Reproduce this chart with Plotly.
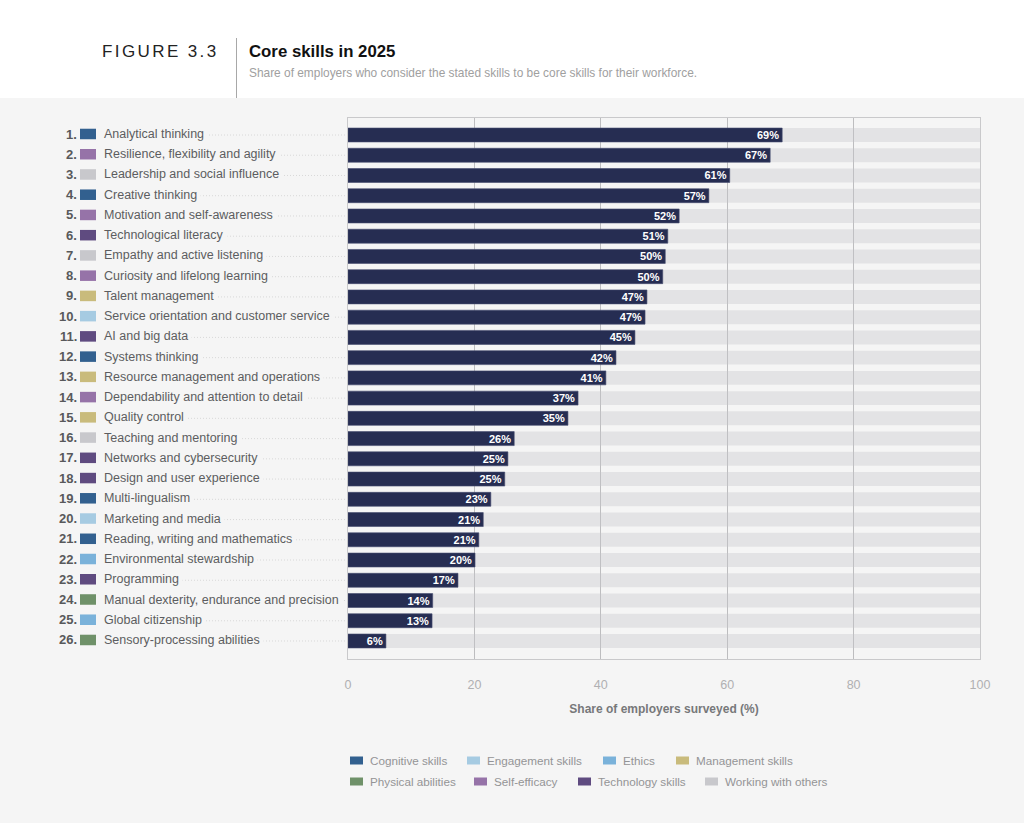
import plotly.graph_objects as go

skills = ["Analytical thinking", "Resilience, flexibility and agility", "Leadership and social influence",
          "Creative thinking", "Motivation and self-awareness", "Technological literacy",
          "Empathy and active listening", "Curiosity and lifelong learning", "Talent management",
          "Service orientation and customer service", "AI and big data", "Systems thinking",
          "Resource management and operations", "Dependability and attention to detail", "Quality control",
          "Teaching and mentoring", "Networks and cybersecurity", "Design and user experience",
          "Multi-lingualism", "Marketing and media", "Reading, writing and mathematics",
          "Environmental stewardship", "Programming", "Manual dexterity, endurance and precision",
          "Global citizenship", "Sensory-processing abilities"]
values = [68.7, 66.8, 60.4, 57.1, 52.4, 50.6, 50.2, 49.8, 47.3, 47.0, 45.4, 42.4, 40.8,
          36.4, 34.8, 26.3, 25.3, 24.8, 22.6, 21.4, 20.7, 20.1, 17.4, 13.4, 13.3, 6.0]
value_labels = ["69%", "67%", "61%", "57%", "52%", "51%", "50%", "50%", "47%", "47%", "45%", "42%", "41%",
                "37%", "35%", "26%", "25%", "25%", "23%", "21%", "21%", "20%", "17%", "14%", "13%", "6%"]
groups = ["Cognitive skills", "Self-efficacy", "Working with others", "Cognitive skills", "Self-efficacy",
          "Technology skills", "Working with others", "Self-efficacy", "Management skills", "Engagement skills",
          "Technology skills", "Cognitive skills", "Management skills", "Self-efficacy", "Management skills",
          "Working with others", "Technology skills", "Technology skills", "Cognitive skills", "Engagement skills",
          "Cognitive skills", "Ethics", "Technology skills", "Physical abilities", "Ethics", "Physical abilities"]
group_colors = {"Cognitive skills": "#32608f", "Engagement skills": "#a6cbe2", "Ethics": "#7ab2da",
                "Management skills": "#c9bb7c", "Physical abilities": "#6f9169", "Self-efficacy": "#9673a8",
                "Technology skills": "#5f4b80", "Working with others": "#c8c8cc"}
legend_rows = [["Cognitive skills", "Engagement skills", "Ethics", "Management skills"],
               ["Physical abilities", "Self-efficacy", "Technology skills", "Working with others"]]
legend_swatch_px = [[350, 467, 603, 676], [350, 474, 578, 705]]
axis_ticks = [0, 20, 40, 60, 80, 100]

W, H = 1024, 823
L, R, T, B = 348, 980, 118, 659
FONT = "Liberation Sans"
py = lambda v: 1 - (v - T) / (B - T)
pxp = lambda v: (v - L) / (R - L)

fig = go.Figure()
fig.add_bar(y=skills, x=[100] * len(skills), orientation="h", width=0.69,
            marker=dict(color="rgba(196,198,202,0.38)", line_width=0), hoverinfo="skip", showlegend=False)
fig.add_bar(y=skills, x=values, orientation="h", width=0.69, text=value_labels,
            textposition="inside", insidetextanchor="end", textangle=0, constraintext="none",
            textfont=dict(family=FONT, size=11, color="white", weight=700),
            marker=dict(color="#262d52", line=dict(color="#474d70", width=0.6)), showlegend=False)

shapes = [dict(type="rect", xref="paper", yref="paper", x0=pxp(0), x1=pxp(W), y0=py(98), y1=py(-2),
               fillcolor="white", line_width=0, layer="below"),
          dict(type="line", xref="paper", yref="paper", x0=pxp(236.5), x1=pxp(236.5), y0=py(38), y1=py(98),
               line=dict(color="#a8a8a8", width=1))]
ann = []
for i, (s, g) in enumerate(zip(skills, groups)):
    shapes.append(dict(type="line", xref="paper", yref="y", x0=pxp(110), x1=pxp(346), y0=s, y1=s,
                       line=dict(color="#d8d8d8", width=1, dash="1px,2px"), layer="below"))
    shapes.append(dict(type="rect", xref="paper", yref="y", x0=pxp(80), x1=pxp(96), y0=i - 0.31, y1=i + 0.21,
                       fillcolor=group_colors[g], line_width=0))
    ann.append(dict(text=f"<b>{i + 1}.</b>", xref="paper", yref="y", x=pxp(78.5), y=s, xanchor="right",
                    yanchor="middle", yshift=1, showarrow=False, font=dict(family=FONT, size=13, color="#58595b")))
    ann.append(dict(text=s, xref="paper", yref="y", x=pxp(100), y=s, xanchor="left", yanchor="middle", yshift=1,
                    showarrow=False, bgcolor="#f5f5f5", borderpad=3,
                    font=dict(family=FONT, size=12.5, color="#5c5d60")))

for r, (row, xs) in enumerate(zip(legend_rows, legend_swatch_px)):
    yc = 760.5 + 21 * r
    for g, x in zip(row, xs):
        shapes.append(dict(type="rect", xref="paper", yref="paper", x0=pxp(x), x1=pxp(x + 13),
                           y0=py(yc + 4), y1=py(yc - 4), fillcolor=group_colors[g], line_width=0))
        ann.append(dict(text=g, xref="paper", yref="paper", x=pxp(x + 17.5), y=py(yc), xanchor="left",
                        yanchor="middle", showarrow=False, font=dict(family=FONT, size=11.7, color="#949496")))

head = [("<span style='letter-spacing:2.4px'>FIGURE 3.3</span>", 100, 51, 17, "#222222"),
        ("<b>Core skills in 2025</b>", 246.5, 51, 16.8, "#111111"),
        ("Share of employers who consider the stated skills to be core skills for their workforce.", 246.5, 73, 11.9, "#a0a0a0")]
for t, x, y, sz, c in head:
    ann.append(dict(text=t, xref="paper", yref="paper", x=pxp(x), y=py(y), xanchor="left", yanchor="middle",
                    showarrow=False, font=dict(family=FONT, size=sz, color=c)))

fig.update_layout(
    width=W, height=H, autosize=False, barmode="overlay", bargap=0.3,
    margin=dict(l=L, r=W - R, t=T, b=H - B), paper_bgcolor="#f5f5f5", plot_bgcolor="#f5f5f5",
    font=dict(family=FONT), shapes=shapes, annotations=ann,
    xaxis=dict(range=[0, 100], tickvals=axis_ticks, showgrid=True, gridcolor="#bdbdbf", gridwidth=1,
               zeroline=False, showline=True, mirror=True, linecolor="#c9c9cb", linewidth=1,
               ticks="outside", ticklen=14, tickcolor="rgba(0,0,0,0)",
               tickfont=dict(family=FONT, size=12.5, color="#b0b0b2"),
               title=dict(text="<b>Share of employers surveyed (%)</b>", standoff=13,
                          font=dict(family=FONT, size=12, color="#77787a"))),
    yaxis=dict(type="category", categoryorder="array", categoryarray=skills, range=[25.89, -0.84],
               showticklabels=False, showgrid=False, zeroline=False, showline=True, mirror=True,
               linecolor="#c9c9cb", linewidth=1, ticks=""),
)
fig.write_html("out.html", post_script="document.body.style.margin='0';", config={"displayModeBar": False})
